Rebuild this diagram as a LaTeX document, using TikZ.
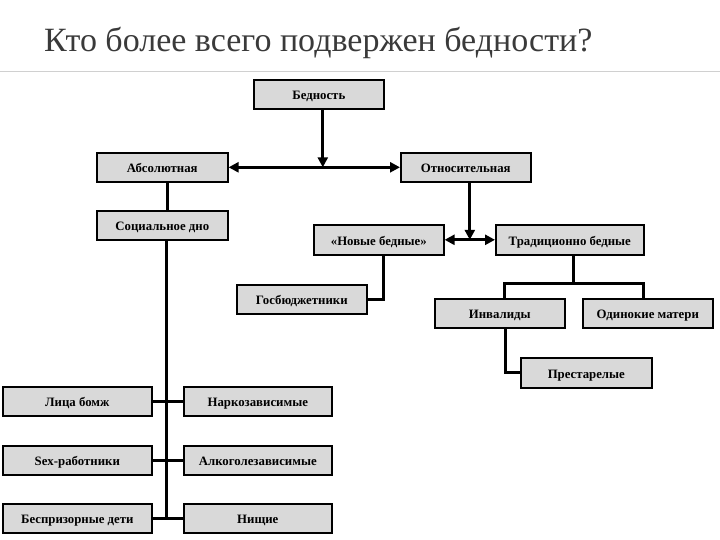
\documentclass[tikz,border=0pt]{standalone}
\usepackage{fontspec}
\setmainfont{Liberation Serif}
\usetikzlibrary{arrows.meta,calc}
\definecolor{boxgray}{HTML}{D9D9D9}
\definecolor{titlegray}{HTML}{3A3A3A}
\definecolor{sepgray}{HTML}{D0D0D0}
\begin{document}
\begin{tikzpicture}[x=1pt,y=-1pt,
  box/.style={draw=black, line width=1.6pt, fill=boxgray, inner sep=0pt, anchor=north west,
    text height=10.5pt, text depth=0pt,
    font=\bfseries\fontsize{12.8}{14}\selectfont},
  conn/.style={line width=3pt, draw=black},
  tip/.tip={Triangle[length=10pt,width=10pt]},
  arr/.style={conn, -tip},
  darr/.style={conn, tip-tip}]
\useasboundingbox (0,0) rectangle (720,540);
\node[anchor=base west, font=\fontsize{34}{40}\selectfont, text=titlegray, inner sep=0pt] (title) at (44,52) {Кто более всего подвержен бедности?};
\coordinate (sepl) at (0,72);
\coordinate (sepr) at (720,72);
\draw[sepgray, line width=1pt] (sepl) -- (sepr);

\node[box, minimum width=130, minimum height=29] (bed) at (253,79) {Бедность};
\node[box, minimum width=131, minimum height=29] (abs) at (96,152) {Абсолютная};
\node[box, minimum width=130, minimum height=29] (otn) at (400,152) {Относительная};
\node[box, minimum width=131, minimum height=29] (soc) at (96,210) {Социальное дно};
\node[box, minimum width=130, minimum height=30] (nov) at (313,224) {«Новые бедные»};
\node[box, minimum width=148, minimum height=30] (trad) at (495,224) {Традиционно бедные};
\node[box, minimum width=130, minimum height=29] (gos) at (236,284) {Госбюджетники};
\node[box, minimum width=130, minimum height=29] (inv) at (434,298) {Инвалиды};
\node[box, minimum width=130, minimum height=29] (od) at (582,298) {Одинокие матери};
\node[box, minimum width=131, minimum height=30] (pre) at (520,357) {Престарелые};
\node[box, minimum width=149, minimum height=29] (lic) at (2,386) {Лица бомж};
\node[box, minimum width=148, minimum height=29] (nar) at (183,386) {Наркозависимые};
\node[box, minimum width=149, minimum height=29] (sex) at (2,445) {Sex-работники};
\node[box, minimum width=148, minimum height=29] (alk) at (183,445) {Алкоголезависимые};
\node[box, minimum width=149, minimum height=29] (bes) at (2,503) {Беспризорные дети};
\node[box, minimum width=148, minimum height=29] (nis) at (183,503) {Нищие};

% top level
\coordinate (bs) at ($(bed.south)+(4,0)$);
\draw[arr] (bs) -- (bs |- abs.east);
\draw[darr] (abs.east) -- (otn.west);
% absolute branch
\coordinate (as) at ($(abs.south)+(5.5,0)$);
\draw[conn] (as) -- (as |- soc.north);
\coordinate (sv) at (166.5,517.5);
\draw[conn] (soc.south -| sv) -- (sv);
\draw[conn] (lic.east) -- (nar.west);
\draw[conn] (sex.east) -- (alk.west);
\draw[conn] (bes.east) -- (nis.west);
% relative branch
\coordinate (os) at ($(otn.south)+(4,0)$);
\draw[arr] (os) -- (os |- nov.east);
\draw[darr] (nov.east) -- (trad.west);
\coordinate (ns) at ($(nov.south)+(5,0)$);
\draw[conn] (ns) |- (gos.east);
\coordinate (tj) at (573,283);
\draw[conn] (trad.south -| tj) -- (tj);
\coordinate (in) at ($(inv.north)+(5,0)$);
\coordinate (on) at ($(od.north)+(-4,0)$);
\draw[conn] (in) |- (tj) -| (on);
\coordinate (is) at ($(inv.south)+(6,0)$);
\draw[conn] (is) |- (pre.west);
\end{tikzpicture}
\end{document}
